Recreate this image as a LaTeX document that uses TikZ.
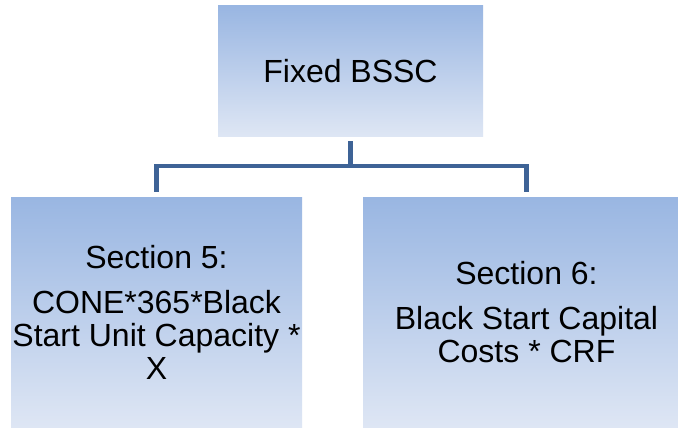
\documentclass[tikz,border=0pt]{standalone}
\usepackage{fontspec}
\setmainfont{Liberation Sans}
\definecolor{boxtop}{RGB}{153,182,226}
\definecolor{boxbottom}{RGB}{222,230,244}
\definecolor{linkblue}{RGB}{62,99,150}
\begin{document}
\begin{tikzpicture}[x=1pt,y=-1pt,
  box/.style={rectangle, inner sep=0pt, top color=boxtop, bottom color=boxbottom,
    draw=none, align=center, font=\fontsize{32}{33}\selectfont},
  conn/.style={draw=linkblue, line width=4.5pt}]
  \path[use as bounding box, clip] (0,0) rectangle (678,428);
  \fill[white] (0,0) rectangle (678,428);

  % boxes
  \node[box, minimum width=265pt, minimum height=130pt] (top) at (350.5,71) {Fixed BSSC};
  \node[box, minimum width=291pt, minimum height=230pt] (left) at (156.5,312)
    {Section 5:\\[12pt]CONE*365*Black\\Start Unit Capacity *\\X};
  \node[box, minimum width=327pt, minimum height=230pt] (right) at (526.5,312)
    {Section 6:\\[12pt]Black Start Capital\\Costs * CRF};

  % connector tree
  \coordinate (bus) at (350.5,166);
  \draw[conn] ([yshift=-5pt]top.south) -- (bus);
  \draw[conn] ([yshift=5pt]left.north) |- (bus) -| ([yshift=5pt]right.north);
\end{tikzpicture}
\end{document}
